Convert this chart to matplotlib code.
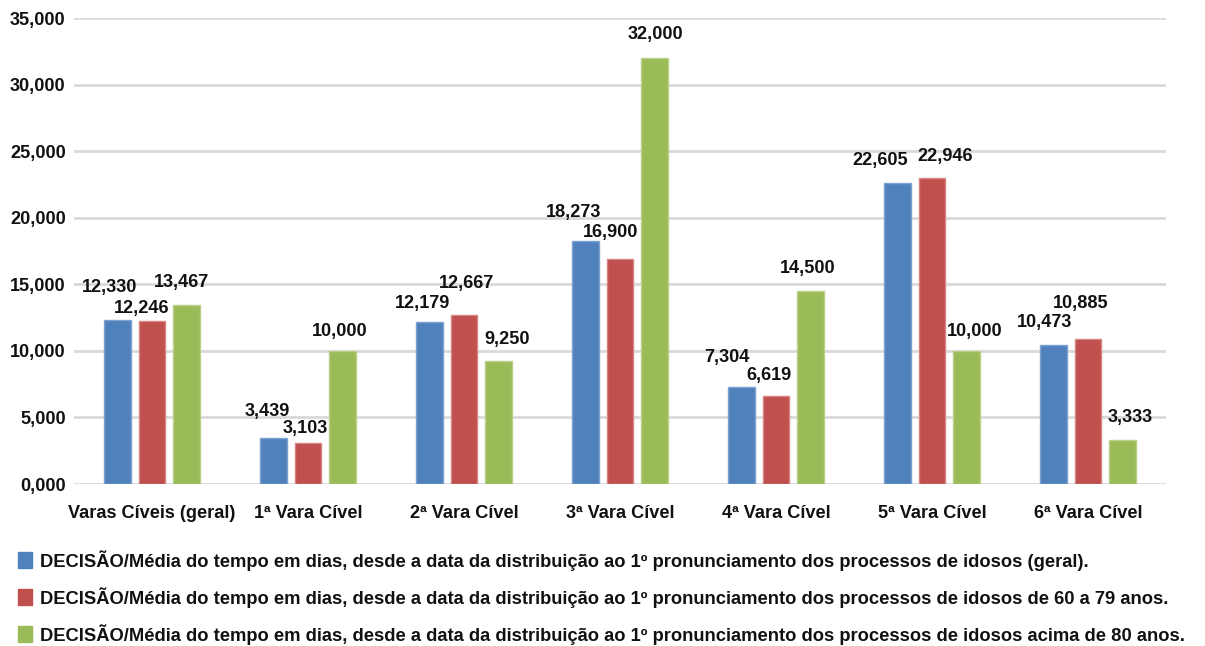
import matplotlib
matplotlib.use("Agg")
import matplotlib.pyplot as plt
from matplotlib.patches import Patch
import numpy as np

plt.rcParams['font.family'] = ['Liberation Sans', 'DejaVu Sans']
plt.rcParams['font.weight'] = 'bold'

categories = ["Varas Cíveis (geral)", "1ª Vara Cível", "2ª Vara Cível", "3ª Vara Cível",
              "4ª Vara Cível", "5ª Vara Cível", "6ª Vara Cível"]
geral = [12.330, 3.439, 12.179, 18.273, 7.304, 22.605, 10.473]
de_60_a_79 = [12.246, 3.103, 12.667, 16.900, 6.619, 22.946, 10.885]
acima_80 = [13.467, 10.000, 9.250, 32.000, 14.500, 10.000, 3.333]
series_labels = [
    "DECISÃO/Média do tempo em dias, desde a data da distribuição ao 1º pronunciamento dos processos de idosos (geral).",
    "DECISÃO/Média do tempo em dias, desde a data da distribuição ao 1º pronunciamento dos processos de idosos de 60 a 79 anos.",
    "DECISÃO/Média do tempo em dias, desde a data da distribuição ao 1º pronunciamento dos processos de idosos acima de 80 anos.",
]
y_ticks = [0, 5, 10, 15, 20, 25, 30, 35]

colors = ["#4f81bd", "#c0504d", "#9bbb59"]
edge_colors = ["#7ea3d3", "#d98482", "#b9d18a"]

# value-label nudges (dx, dy) in pixels, relative to bar top center
label_nudge = [
    [(-8, 32), (-6, 27), (-7, 18), (-12, 28), (-15, 29), (-17, 23), (-9, 22)],
    [(-10, 12), (-3, 14), (2, 32), (-9, 26), (-7, 20), (13, 22), (-7, 36)],
    [(-5, 22), (-3, 19), (9, 21), (1, 23), (-3, 22), (8, 19), (8, 22)],
]

def fmt(v):
    return f"{v:.3f}".replace(".", ",")

FS = 13.1
DPI = 100
fig = plt.figure(figsize=(12.05, 6.46), dpi=DPI)
ax = fig.add_axes([74 / 1205, 1 - 484 / 646, (1166 - 74) / 1205, (484 - 18) / 646])

x = np.arange(len(categories))
step = 0.221
width = 0.173
all_series = [geral, de_60_a_79, acima_80]
for i, vals in enumerate(all_series):
    pos = x + (i - 1) * step
    ax.bar(pos, vals, width=width, color=colors[i], edgecolor=edge_colors[i],
           linewidth=1.0, zorder=3)
    for j, v in enumerate(vals):
        dx, dy = label_nudge[i][j]
        ax.annotate(fmt(v), xy=(pos[j], v), xytext=(dx * 0.72, dy * 0.72),
                    textcoords="offset points", ha="center", va="center",
                    fontsize=FS, fontweight="bold", color="#111111", zorder=4)

ax.set_xlim(-0.5, len(categories) - 0.5)
ax.set_ylim(0, 35)
ax.set_yticks(y_ticks)
ax.set_yticklabels([fmt(t) for t in y_ticks])
ax.set_xticks(x)
ax.set_xticklabels(categories)
ax.tick_params(axis="y", length=0, pad=6, labelsize=FS, labelcolor="#111111")
ax.tick_params(axis="x", length=0, pad=15, labelsize=FS, labelcolor="#111111")
for s in ax.spines.values():
    s.set_visible(False)
ax.yaxis.grid(True, color="#d9d9d9", linewidth=2, zorder=0)
ax.set_axisbelow(True)

handles = [Patch(facecolor=c, edgecolor=c) for c in colors]
leg = fig.legend(handles, series_labels, loc="upper left", bbox_to_anchor=(18 / 1205, 1 - 550 / 646),
                 frameon=False, fontsize=13.25, handlelength=0.78, handleheight=0.95,
                 handletextpad=0.42, labelspacing=0.88, borderaxespad=0, borderpad=0)
for t in leg.get_texts():
    t.set_fontweight("bold")
    t.set_color("#111111")

fig.savefig("out.png", dpi=DPI, facecolor="white")
